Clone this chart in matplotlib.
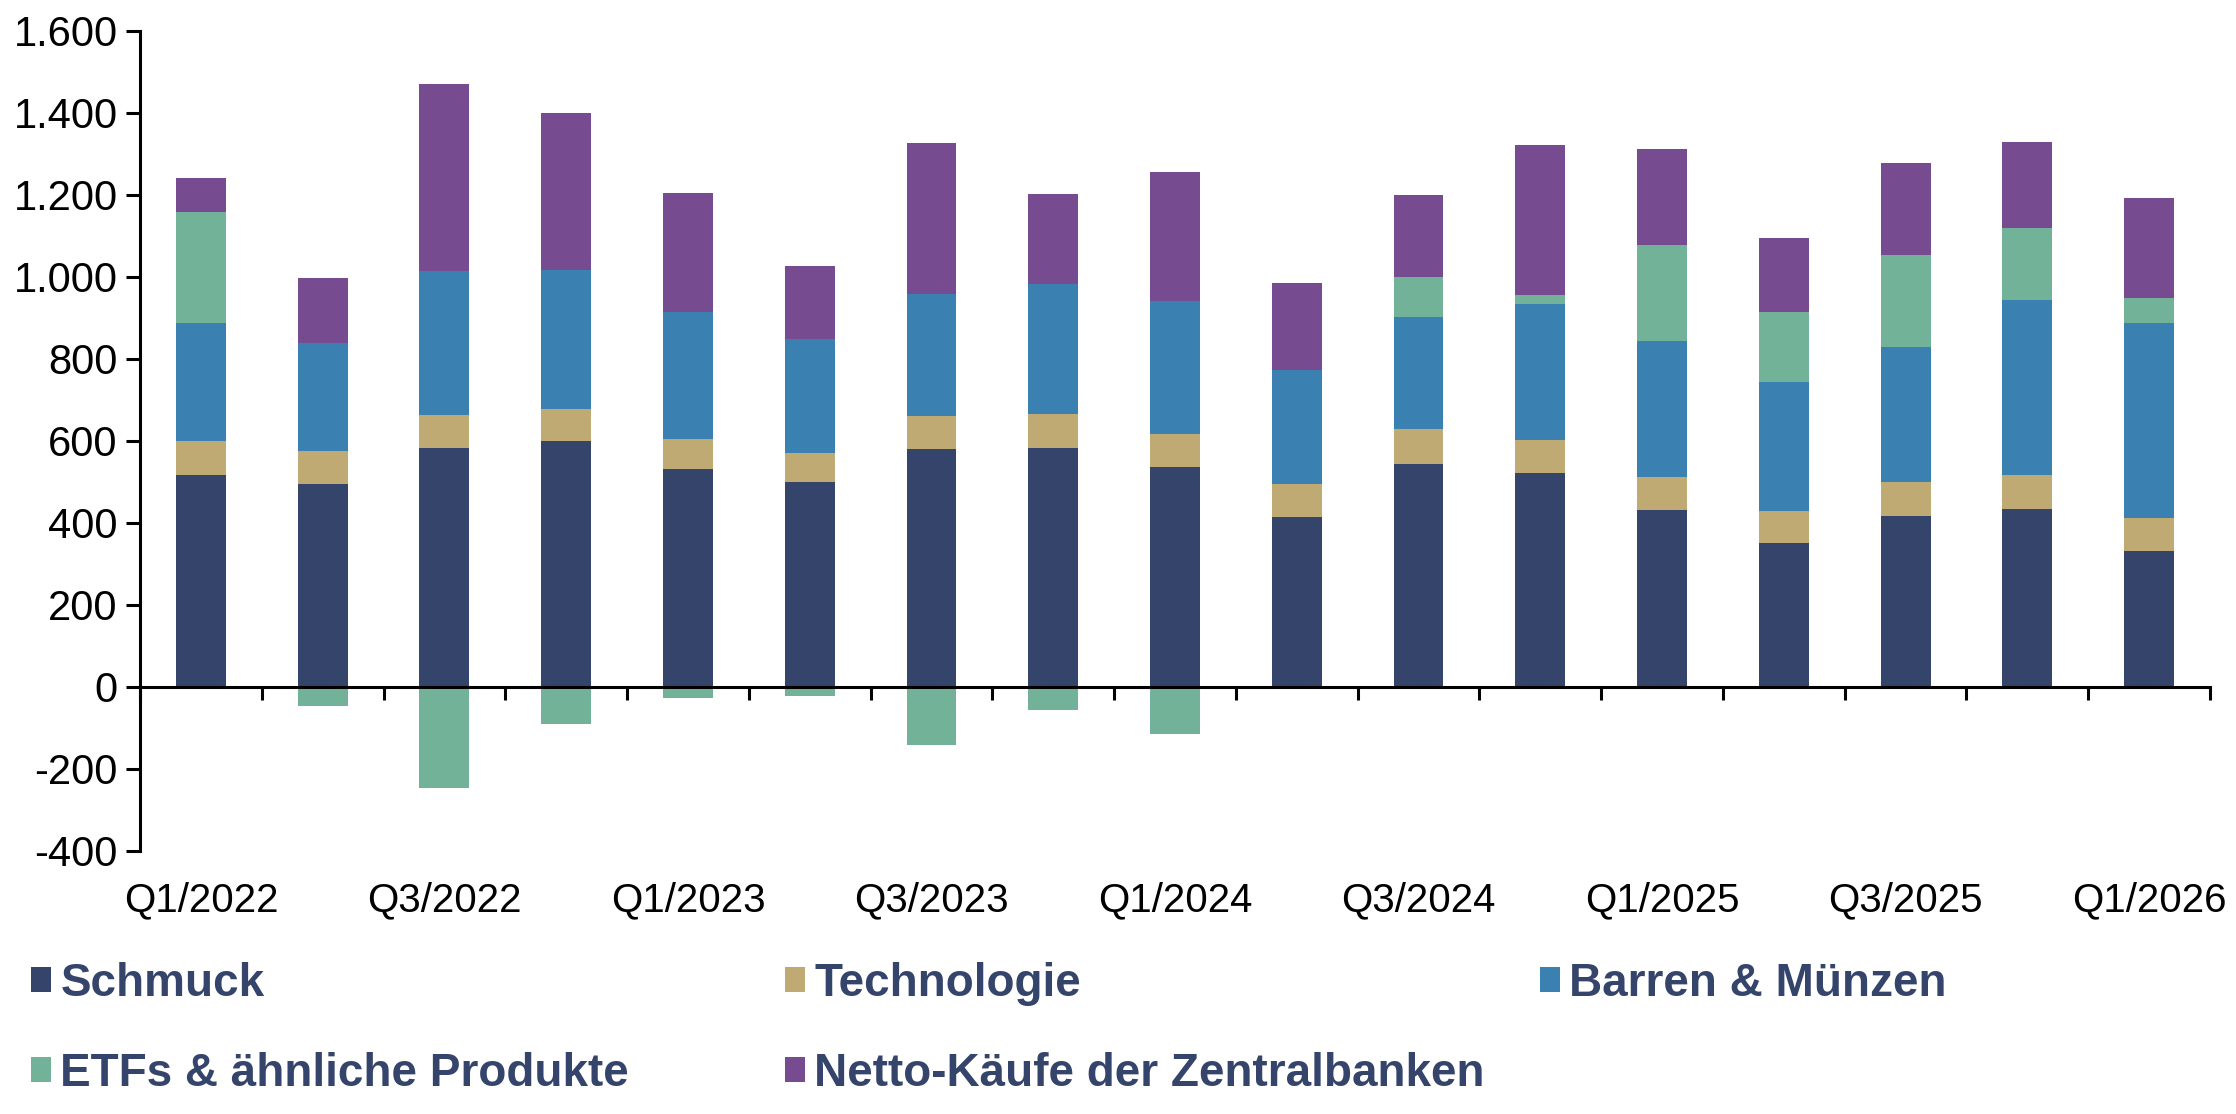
import matplotlib
matplotlib.use("Agg")
import matplotlib.pyplot as plt
from matplotlib.patches import Patch
from matplotlib.transforms import blended_transform_factory
import numpy as np

plt.rcParams['font.family'] = ['Liberation Sans', 'DejaVu Sans']

quarters = ["Q1/2022", "Q2/2022", "Q3/2022", "Q4/2022",
            "Q1/2023", "Q2/2023", "Q3/2023", "Q4/2023",
            "Q1/2024", "Q2/2024", "Q3/2024", "Q4/2024",
            "Q1/2025", "Q2/2025", "Q3/2025", "Q4/2025",
            "Q1/2026"]

schmuck     = [517, 496, 583, 601, 532, 499, 581, 583, 536, 415, 543, 521, 431, 352, 417, 434, 331]
technologie = [82, 80, 81, 76, 73, 72, 79, 84, 80, 79, 86, 81, 82, 78, 83, 83, 82]
barren      = [288, 263, 350, 341, 310, 278, 299, 316, 325, 279, 273, 331, 332, 314, 329, 428, 475]
etfs        = [272, -47, -246, -91, -28, -22, -141, -57, -115, 0, 97, 22, 232, 171, 224, 175, 62]
zentralbank = [82, 158, 457, 381, 290, 178, 367, 219, 314, 213, 201, 366, 235, 179, 226, 209, 243]

series_names = ["Schmuck", "Technologie", "Barren & Münzen",
                "ETFs & ähnliche Produkte", "Netto-Käufe der Zentralbanken"]
series_vals = [schmuck, technologie, barren, etfs, zentralbank]
colors = ["#34446A", "#BFAA74", "#3A80B1", "#72B299", "#774B8F"]

y_ticks = [-400, -200, 0, 200, 400, 600, 800, 1000, 1200, 1400, 1600]

fig = plt.figure(figsize=(22.36, 11.14), dpi=100)
ax = fig.add_axes([140/2236, 1 - 851/1114, (2210-140)/2236, (851-31)/1114])

x = np.arange(len(quarters))
pos_bottom = np.zeros(len(quarters))
neg_bottom = np.zeros(len(quarters))
for name, vals, c in zip(series_names, series_vals, colors):
    v = np.array(vals, dtype=float)
    bottom = np.where(v >= 0, pos_bottom, neg_bottom)
    ax.bar(x, v, width=0.41, bottom=bottom, color=c, edgecolor='none', zorder=2)
    pos_bottom = pos_bottom + np.where(v > 0, v, 0)
    neg_bottom = neg_bottom + np.where(v < 0, v, 0)

ax.set_xlim(-0.5, len(quarters) - 0.5)
ax.set_ylim(-400, 1600)
ax.set_yticks(y_ticks)
ax.set_yticklabels([f"{t:,}".replace(",", ".") for t in y_ticks], fontsize=30)

ax.spines['top'].set_visible(False)
ax.spines['right'].set_visible(False)
ax.spines['bottom'].set_position(('data', 0))
ax.spines['bottom'].set_zorder(3)
for s in ['left', 'bottom']:
    ax.spines[s].set_linewidth(2.2)
ax.set_xticks(np.arange(-0.5, len(quarters), 1.0))
ax.set_xticklabels([])
ax.tick_params(axis='x', direction='out', length=9, width=2.2)
ax.tick_params(axis='y', direction='out', length=10, width=2.2, pad=6)

trans = blended_transform_factory(ax.transData, ax.transAxes)
for i in range(0, len(quarters), 2):
    ax.text(i, -0.06, quarters[i], transform=trans, ha='center', va='center',
            fontsize=29)

handles = [Patch(facecolor=c, edgecolor='none') for c in colors]
prop = {'weight': 'bold', 'size': 33}
common = dict(loc='upper left', frameon=False, prop=prop, labelcolor='#34446A',
              handlelength=0.44, handleheight=0.44, handletextpad=0.2,
              borderpad=0, borderaxespad=0, labelspacing=1.0)
top = 1 - 962/1114
fig.legend([handles[0], handles[3]], [series_names[0], series_names[3]],
           bbox_to_anchor=(31/2236, top), **common)
fig.legend([handles[1], handles[4]], [series_names[1], series_names[4]],
           bbox_to_anchor=(785/2236, top), **common)
fig.legend([handles[2]], [series_names[2]],
           bbox_to_anchor=(1540/2236, top), **common)

fig.savefig("out.png", dpi=100)
